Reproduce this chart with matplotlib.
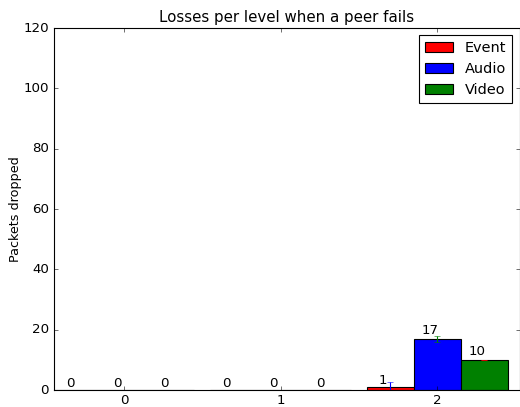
import matplotlib
matplotlib.use("Agg")
import matplotlib.pyplot as plt
import numpy as np

plt.style.use("classic")

levels = ["0", "1", "2"]
series_names = ["Event", "Audio", "Video"]
event = [0, 0, 0.9]
audio = [0, 0, 16.8]
video = [0, 0, 10.0]
event_err = [0, 0, 1.8]
audio_err = [0, 0, 1.0]
video_err = [0, 0, 0.0]

bar_colors = ["red", "blue", "green"]
err_colors = ["blue", "green", "red"]

fig = plt.figure(figsize=(6.5, 5.0875), dpi=80)
ax = fig.add_axes([53.5 / 520, 1 - 390 / 407, (519.5 - 53.5) / 520, (390 - 28) / 407])

x = np.arange(len(levels))
width = 0.3
data = [event, audio, video]
errs = [event_err, audio_err, video_err]
for k, (vals, err) in enumerate(zip(data, errs)):
    pos = x - 0.45 + k * width
    bars = ax.bar(pos, vals, width, color=bar_colors[k], edgecolor="black",
                  label=series_names[k], align="edge")
    ax.errorbar(pos + width / 2, vals, yerr=err, fmt="none",
                ecolor=err_colors[k], capsize=2.7, elinewidth=1)
    for rect, v in zip(bars, vals):
        ax.text(rect.get_x() + rect.get_width() / 2 - 0.045, 1.05 * v,
                "%d" % round(v), ha="center", va="bottom", fontsize=12)

ax.set_xlim(-0.45, 2.525)
ax.set_ylim(0, 120)
ax.set_xticks(x)
ax.set_xticklabels(levels)
ax.tick_params(labelsize=12)
ax.set_ylabel("Packets dropped", fontsize=11.5, labelpad=1)
ax.set_title("Losses per level when a peer fails", fontsize=13.5)
ax.legend(loc="upper right", fontsize=13)

fig.savefig("out.png", dpi=80)
